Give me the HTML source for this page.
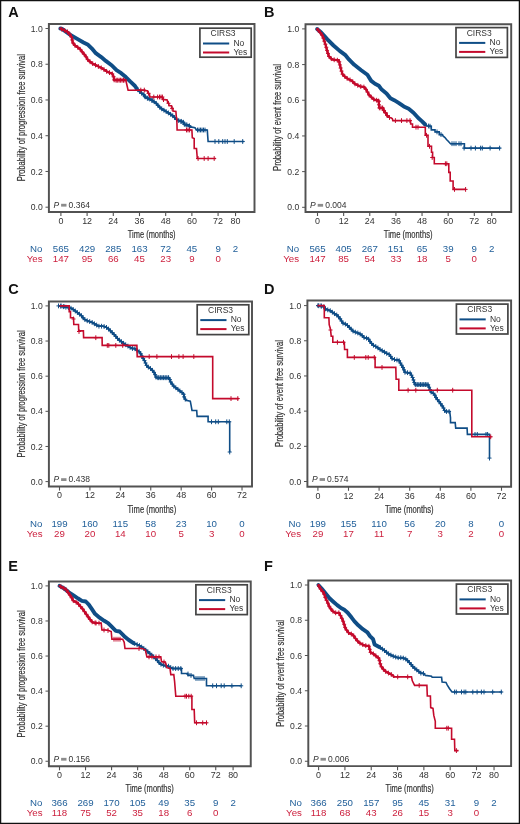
<!DOCTYPE html>
<html><head><meta charset="utf-8"><style>
html,body{margin:0;padding:0;background:#fff;}
svg{display:block;will-change:transform;}
text{font-family:"Liberation Sans", sans-serif;}
</style></head><body>
<svg width="520" height="824" viewBox="0 0 520 824">
<rect x="0" y="0" width="520" height="824" fill="#fff"/>
<text x="8.2" y="17.3" font-size="14.5" font-weight="bold" fill="#111">A</text>
<path d="M60.3,28.5 62,28.8 70.4,34.8 78.1,39.4 83.5,42.5 88.1,44.8 91.9,48.6 95.8,53.2 101.2,57.1 105.8,60.9 111.9,65.5 116.5,70.2 121.2,73.2 125.8,77.1 130.4,81.7 135,86 136.9,88.8 140.8,92.7 143.7,94.6 145.6,97.5 149.4,98.9 152.3,100.4 156.2,103.3 159,106.6 161.9,109 166.7,111.9 170.6,114.3 173.5,116.3 175.4,118.2 177.3,120.1 180.2,121.1 183.3,121.8 183.8,124.2 188.8,125.4 190.4,126.9 195,127.7 196.5,130 207.3,130 207.6,134.6 208.1,141.5 244.2,141.5" fill="none" stroke="#0f4d86" stroke-width="1.6" stroke-linejoin="miter" stroke-miterlimit="2"/>
<path d="M60.3,28.5 62,28.8 70.4,34.8 78.1,39.4 83.5,42.5 88.1,44.8 91.9,48.6 95.8,53.2 101.2,57.1 105.8,60.9 111.9,65.5 116.5,70.2 121.2,73.2 125.8,77.1 130.4,81.7 135,86 136.9,88.8" fill="none" stroke="#0f4d86" stroke-width="3.9" stroke-linejoin="round" stroke-linecap="round"/>
<path d="M136.9,88.8 140.8,92.7 143.7,94.6 145.6,97.5 149.4,98.9 152.3,100.4 156.2,103.3 159,106.6 161.9,109 166.7,111.9 170.6,114.3 173.5,116.3 175.4,118.2 177.3,120.1 180.2,121.1 183.3,121.8 183.8,124.2 188.8,125.4 190.4,126.9" fill="none" stroke="#0f4d86" stroke-width="2.2" stroke-linejoin="round" stroke-linecap="round"/>
<path d="M213,141.5h4M215,139.1v4.8M216.8,141.5h4M218.8,139.1v4.8M220.7,141.5h4M222.7,139.1v4.8M223,141.5h4M225,139.1v4.8M225.3,141.5h4M227.3,139.1v4.8M232.2,141.5h4M234.2,139.1v4.8M240.7,141.5h4M242.7,139.1v4.8M195.5,130h4M197.5,127.6v4.8M197,130h4M199,127.6v4.8M198.5,130h4M200.5,127.6v4.8M200,130h4M202,127.6v4.8M201.5,130h4M203.5,127.6v4.8M203,130h4M205,127.6v4.8M142.5,96h4M144.5,93.6v4.8M146,98.5h4M148,96.1v4.8M150,100.5h4M152,98.1v4.8M174.5,119.5h4M176.5,117.1v4.8M179,121.5h4M181,119.1v4.8M184,124.8h4M186,122.4v4.8M187.5,126.2h4M189.5,123.8v4.8M135.82,89.72h4M137.82,87.32v4.8M137.66,91.56h4M139.66,89.16v4.8M139.62,93.24h4M141.62,90.84v4.8M141.76,94.7h4M143.76,92.3v4.8M143.19,96.87h4M145.19,94.47v4.8M145.34,98.14h4M147.34,95.74v4.8M147.76,99.08h4M149.76,96.68v4.8M150.07,100.28h4M152.07,97.88v4.8M152.17,101.79h4M154.17,99.39v4.8M154.25,103.36h4M156.25,100.96v4.8M155.93,105.34h4M157.93,102.94v4.8M157.73,107.2h4M159.73,104.8v4.8M159.73,108.86h4M161.73,106.46v4.8M161.94,110.23h4M163.94,107.83v4.8M164.17,111.58h4M166.17,109.18v4.8M166.38,112.94h4M168.38,110.54v4.8M168.6,114.3h4M170.6,111.9v4.8M170.74,115.77h4M172.74,113.37v4.8M172.68,117.48h4M174.68,115.08v4.8M174.52,119.32h4M176.52,116.92v4.8M176.72,120.59h4M178.72,118.19v4.8M179.21,121.33h4M181.21,118.93v4.8M181.39,122.24h4M183.39,119.84v4.8M182.39,124.34h4M184.39,121.94v4.8M184.91,124.95h4M186.91,122.55v4.8M187.28,125.85h4M189.28,123.45v4.8" fill="none" stroke="#0f4d86" stroke-width="1.0"/>
<path d="M60.3,28.5 67.3,31.7 69.6,34 71.9,37.8 72.7,42.5 75,45.5 79.6,48.6 82.7,52.5 85.8,56.3 88.1,60.2 91.9,63.2 95,64.8 99.6,67.1 102.7,68.6 105.8,70.9 108.8,72.5 111.9,73.2 113.5,76.3 114.2,80.2 125.8,80.2 126.5,83.2 128.1,90.2 144.6,90.1 145.1,90.8 147.5,90.8 148,93.2 149.4,93.7 149.9,97 162.4,97 162.9,99.4 167.2,99.9 167.7,102.8 168.7,103.3 169.1,105.7 171.5,105.7 172,108.1 173,108.6 173,111 175.9,111.4 176.3,116.7 176.8,118.2 177.1,130 191.9,130 192.3,137.7 194.2,138.5 194.2,148.5 196.5,148.5 197.3,158.5 215.8,158.5" fill="none" stroke="#c40a2c" stroke-width="1.6" stroke-linejoin="miter" stroke-miterlimit="2"/>
<path d="M60.3,28.5 67.3,31.7 69.6,34 71.9,37.8 72.7,42.5 75,45.5 79.6,48.6 82.7,52.5 85.8,56.3 88.1,60.2 91.9,63.2 95,64.8 99.6,67.1 102.7,68.6 105.8,70.9 108.8,72.5 111.9,73.2 113.5,76.3 114.2,80.2 125.8,80.2" fill="none" stroke="#c40a2c" stroke-width="2.2" stroke-linejoin="round" stroke-linecap="round"/>
<path d="M114,80.2h4M116,77.8v4.8M116,80.2h4M118,77.8v4.8M118,80.2h4M120,77.8v4.8M120,80.2h4M122,77.8v4.8M122,80.2h4M124,77.8v4.8M138.8,90.1h4M140.8,87.7v4.8M142.3,90.1h4M144.3,87.7v4.8M151.8,97h4M153.8,94.6v4.8M155.6,97h4M157.6,94.6v4.8M157.5,97h4M159.5,94.6v4.8M159,97h4M161,94.6v4.8M160.4,97h4M162.4,94.6v4.8M146.5,93.3h4M148.5,90.9v4.8M161.5,99.6h4M163.5,97.2v4.8M166.5,103.3h4M168.5,100.9v4.8M170,108.3h4M172,105.9v4.8M184.5,130h4M186.5,127.6v4.8M186,130h4M188,127.6v4.8M187.6,130h4M189.6,127.6v4.8M196.1,158.5h4M198.1,156.1v4.8M202.2,158.5h4M204.2,156.1v4.8M206.1,158.5h4M208.1,156.1v4.8M212.2,158.5h4M214.2,156.1v4.8M59.76,29.17h4M61.76,26.77v4.8M62.67,30.5h4M64.67,28.1v4.8M65.51,31.91h4M67.51,29.51v4.8M67.73,34.21h4M69.73,31.81v4.8M69.39,36.95h4M71.39,34.55v4.8M70.27,39.98h4M72.27,37.58v4.8M71.09,43.01h4M73.09,40.61v4.8M73.05,45.53h4M75.05,43.13v4.8M75.7,47.32h4M77.7,44.92v4.8M78.17,49.32h4M80.17,46.92v4.8M80.16,51.82h4M82.16,49.42v4.8M82.17,54.31h4M84.17,51.91v4.8M84.12,56.84h4M86.12,54.44v4.8M85.74,59.6h4M87.74,57.2v4.8M88.06,61.75h4M90.06,59.35v4.8M90.66,63.59h4M92.66,61.19v4.8M93.51,65.05h4M95.51,62.65v4.8M96.37,66.49h4M98.37,64.09v4.8M99.24,67.9h4M101.24,65.5v4.8M101.97,69.54h4M103.97,67.14v4.8M104.61,71.33h4M106.61,68.93v4.8M107.51,72.66h4M109.51,70.26v4.8M110.24,73.86h4M112.24,71.46v4.8M111.58,76.75h4M113.58,74.35v4.8M112.15,79.9h4M114.15,77.5v4.8M115.09,80.2h4M117.09,77.8v4.8M118.29,80.2h4M120.29,77.8v4.8M121.49,80.2h4M123.49,77.8v4.8" fill="none" stroke="#c40a2c" stroke-width="1.0"/>
<path d="M48.9,24H254.5V212H48.9Z" fill="none" stroke="#525252" stroke-width="1.95"/>
<path d="M45.5,28.5H48.9" stroke="#525252" stroke-width="1"/>
<text transform="translate(42.7,31.65) scale(0.88,1)" font-size="9.8" text-anchor="end" fill="#333333">1.0</text>
<path d="M45.5,64.24H48.9" stroke="#525252" stroke-width="1"/>
<text transform="translate(42.7,67.39) scale(0.88,1)" font-size="9.8" text-anchor="end" fill="#333333">0.8</text>
<path d="M45.5,99.98H48.9" stroke="#525252" stroke-width="1"/>
<text transform="translate(42.7,103.13) scale(0.88,1)" font-size="9.8" text-anchor="end" fill="#333333">0.6</text>
<path d="M45.5,135.72H48.9" stroke="#525252" stroke-width="1"/>
<text transform="translate(42.7,138.87) scale(0.88,1)" font-size="9.8" text-anchor="end" fill="#333333">0.4</text>
<path d="M45.5,171.46H48.9" stroke="#525252" stroke-width="1"/>
<text transform="translate(42.7,174.61) scale(0.88,1)" font-size="9.8" text-anchor="end" fill="#333333">0.2</text>
<path d="M45.5,207.2H48.9" stroke="#525252" stroke-width="1"/>
<text transform="translate(42.7,210.35) scale(0.88,1)" font-size="9.8" text-anchor="end" fill="#333333">0.0</text>
<path d="M60.9,212V216.1" stroke="#525252" stroke-width="1.1"/>
<text transform="translate(60.9,223.8) scale(0.95,1)" font-size="9.4" text-anchor="middle" fill="#333333">0</text>
<path d="M87.1,212V216.1" stroke="#525252" stroke-width="1.1"/>
<text transform="translate(87.1,223.8) scale(0.95,1)" font-size="9.4" text-anchor="middle" fill="#333333">12</text>
<path d="M113.29,212V216.1" stroke="#525252" stroke-width="1.1"/>
<text transform="translate(113.29,223.8) scale(0.95,1)" font-size="9.4" text-anchor="middle" fill="#333333">24</text>
<path d="M139.49,212V216.1" stroke="#525252" stroke-width="1.1"/>
<text transform="translate(139.49,223.8) scale(0.95,1)" font-size="9.4" text-anchor="middle" fill="#333333">36</text>
<path d="M165.68,212V216.1" stroke="#525252" stroke-width="1.1"/>
<text transform="translate(165.68,223.8) scale(0.95,1)" font-size="9.4" text-anchor="middle" fill="#333333">48</text>
<path d="M191.88,212V216.1" stroke="#525252" stroke-width="1.1"/>
<text transform="translate(191.88,223.8) scale(0.95,1)" font-size="9.4" text-anchor="middle" fill="#333333">60</text>
<path d="M218.08,212V216.1" stroke="#525252" stroke-width="1.1"/>
<text transform="translate(218.08,223.8) scale(0.95,1)" font-size="9.4" text-anchor="middle" fill="#333333">72</text>
<path d="M235.54,212V216.1" stroke="#525252" stroke-width="1.1"/>
<text transform="translate(235.54,223.8) scale(0.95,1)" font-size="9.4" text-anchor="middle" fill="#333333">80</text>
<text transform="translate(24.6,181.3) rotate(-90)" font-size="10.5" textLength="127.1" lengthAdjust="spacingAndGlyphs" fill="#333333" stroke="#333333" stroke-width="0.2">Probability of progression free survival</text>
<text x="127.8" y="237.8" font-size="10.5" textLength="47.8" lengthAdjust="spacingAndGlyphs" fill="#333333" stroke="#333333" stroke-width="0.2">Time (months)</text>
<text x="53.5" y="207.5" font-size="8.5" font-style="italic" fill="#333333">P</text>
<rect x="61.1" y="203.8" width="5.4" height="2.8" fill="#8c8c8c"/>
<text x="68.6" y="207.5" font-size="8.5" fill="#333333">0.364</text>
<rect x="199.9" y="28.2" width="51.3" height="29" fill="#fff" stroke="#444" stroke-width="1.7"/>
<text x="223.1" y="36.3" font-size="8.5" text-anchor="middle" fill="#333333">CIRS3</text>
<path d="M203,43.5H229.2" stroke="#0f4d86" stroke-width="2"/>
<path d="M203,52.5H229.2" stroke="#c40a2c" stroke-width="2"/>
<text x="233.4" y="45.8" font-size="8.5" fill="#333333">No</text>
<text x="233.4" y="54.8" font-size="8.5" fill="#333333">Yes</text>
<text x="42.5" y="251.55" font-size="9.7" text-anchor="end" fill="#22609a">No</text>
<text x="42.5" y="261.65" font-size="9.7" text-anchor="end" fill="#cc1f3d">Yes</text>
<text x="60.9" y="251.55" font-size="9.7" text-anchor="middle" fill="#22609a">565</text>
<text x="87.1" y="251.55" font-size="9.7" text-anchor="middle" fill="#22609a">429</text>
<text x="113.29" y="251.55" font-size="9.7" text-anchor="middle" fill="#22609a">285</text>
<text x="139.49" y="251.55" font-size="9.7" text-anchor="middle" fill="#22609a">163</text>
<text x="165.68" y="251.55" font-size="9.7" text-anchor="middle" fill="#22609a">72</text>
<text x="191.88" y="251.55" font-size="9.7" text-anchor="middle" fill="#22609a">45</text>
<text x="218.08" y="251.55" font-size="9.7" text-anchor="middle" fill="#22609a">9</text>
<text x="235.54" y="251.55" font-size="9.7" text-anchor="middle" fill="#22609a">2</text>
<text x="60.9" y="261.65" font-size="9.7" text-anchor="middle" fill="#cc1f3d">147</text>
<text x="87.1" y="261.65" font-size="9.7" text-anchor="middle" fill="#cc1f3d">95</text>
<text x="113.29" y="261.65" font-size="9.7" text-anchor="middle" fill="#cc1f3d">66</text>
<text x="139.49" y="261.65" font-size="9.7" text-anchor="middle" fill="#cc1f3d">45</text>
<text x="165.68" y="261.65" font-size="9.7" text-anchor="middle" fill="#cc1f3d">23</text>
<text x="191.88" y="261.65" font-size="9.7" text-anchor="middle" fill="#cc1f3d">9</text>
<text x="218.08" y="261.65" font-size="9.7" text-anchor="middle" fill="#cc1f3d">0</text>
<text x="264" y="17.3" font-size="14.5" font-weight="bold" fill="#111">B</text>
<path d="M317.1,29 321.2,32.5 327.4,39.4 333.5,45.5 339.7,50.9 345.1,54.8 348.9,59.4 354.3,64.8 361.2,70.2 367.4,74.8 371.2,80.9 375,83.8 378.8,85.8 381.7,89.6 386.5,93.5 390.4,98.3 394.2,100.2 399,103.1 403.8,106.4 408.7,108.8 413.5,112.7 418.3,118 421.8,121.1 425.2,124.5 426.7,125.9 430.5,126.2 431.3,126.2 431.3,129.9 435,129.9 435,131.9 439.2,131.9 439.2,134.6 442.5,134.6 443,136 445,137.5 446.5,139.5 448.5,141.5 450.5,143.7 464.4,143.7 464.4,148.1 500.4,148.1" fill="none" stroke="#0f4d86" stroke-width="1.6" stroke-linejoin="miter" stroke-miterlimit="2"/>
<path d="M317.1,29 321.2,32.5 327.4,39.4 333.5,45.5 339.7,50.9 345.1,54.8 348.9,59.4 354.3,64.8 361.2,70.2 367.4,74.8 371.2,80.9 375,83.8 378.8,85.8 381.7,89.6 386.5,93.5 390.4,98.3 394.2,100.2 399,103.1 403.8,106.4 408.7,108.8 413.5,112.7 418.3,118 421.8,121.1 425.2,124.5" fill="none" stroke="#0f4d86" stroke-width="3.9" stroke-linejoin="round" stroke-linecap="round"/>
<path d="M462.1,148.1h4M464.1,145.7v4.8M469,148.1h4M471,145.7v4.8M473.4,148.1h4M475.4,145.7v4.8M478.6,148.1h4M480.6,145.7v4.8M480.3,148.1h4M482.3,145.7v4.8M488.1,148.1h4M490.1,145.7v4.8M497.6,148.1h4M499.6,145.7v4.8M450,143.7h4M452,141.3v4.8M452,143.7h4M454,141.3v4.8M454,143.7h4M456,141.3v4.8M457,143.7h4M459,141.3v4.8M459,143.7h4M461,141.3v4.8M426.6,126h4M428.6,123.6v4.8M428,126.2h4M430,123.8v4.8M435,131.9h4M437,129.5v4.8M439,134.6h4M441,132.2v4.8" fill="none" stroke="#0f4d86" stroke-width="1.0"/>
<path d="M317.1,29 319.7,31.7 322.8,36.3 324.3,40.9 325.8,45.5 327.4,51.7 328.9,56.3 332,59.4 336.6,60.2 338.9,60.2 339.7,64 341.2,70.2 342.8,74.8 347.4,78.6 352,80.9 355.1,84 359.7,86.3 364.3,87.1 366.6,90.2 368.9,94.8 372,97.8 375,100.2 378.4,100.2 378.8,103.1 379.3,107.9 383.2,107.9 384.1,111.7 386.5,113.7 387.5,116.5 392.3,118.5 392.8,120.6 410.5,120.6 410.7,124 412.5,124 412.5,127.2 425.3,127.2 425.3,135.3 428,135.3 428,146.3 431.5,146.3 431.5,152.2 432.6,152.2 432.6,157.5 434.3,157.5 434.3,163.75 448.8,163.75 448.8,172.4 450.2,172.4 450.2,181 453.1,181 453.1,189.4 466.1,189.4" fill="none" stroke="#c40a2c" stroke-width="1.6" stroke-linejoin="miter" stroke-miterlimit="2"/>
<path d="M317.1,29 319.7,31.7 322.8,36.3 324.3,40.9 325.8,45.5 327.4,51.7 328.9,56.3 332,59.4 336.6,60.2 338.9,60.2 339.7,64 341.2,70.2 342.8,74.8 347.4,78.6 352,80.9 355.1,84 359.7,86.3 364.3,87.1 366.6,90.2 368.9,94.8 372,97.8 375,100.2 378.4,100.2 378.8,103.1 379.3,107.9 383.2,107.9 384.1,111.7 386.5,113.7 387.5,116.5" fill="none" stroke="#c40a2c" stroke-width="2.2" stroke-linejoin="round" stroke-linecap="round"/>
<path d="M393.4,120.6h4M395.4,118.2v4.8M399.5,120.6h4M401.5,118.2v4.8M404.9,120.6h4M406.9,118.2v4.8M408,120.6h4M410,118.2v4.8M376.6,101h4M378.6,98.6v4.8M379,107.9h4M381,105.5v4.8M383.5,112.7h4M385.5,110.3v4.8M387.5,117.5h4M389.5,115.1v4.8M414,127.2h4M416,124.8v4.8M416,127.2h4M418,124.8v4.8M424.5,135.3h4M426.5,132.9v4.8M427.5,146.3h4M429.5,143.9v4.8M430.2,157.5h4M432.2,155.1v4.8M443.4,163.75h4M445.4,161.35v4.8M444.8,163.75h4M446.8,161.35v4.8M452.5,189.4h4M454.5,187v4.8M463.6,189.4h4M465.6,187v4.8M316.21,30.15h4M318.21,27.75v4.8M318.29,32.57h4M320.29,30.17v4.8M320.08,35.23h4M322.08,32.83v4.8M321.39,38.11h4M323.39,35.71v4.8M322.38,41.15h4M324.38,38.75v4.8M323.37,44.2h4M325.37,41.8v4.8M324.26,47.27h4M326.26,44.87v4.8M325.06,50.37h4M327.06,47.97v4.8M325.97,53.43h4M327.97,51.03v4.8M327.03,56.43h4M329.03,54.03v4.8M329.29,58.69h4M331.29,56.29v4.8M332.17,59.78h4M334.17,57.38v4.8M335.33,60.2h4M337.33,57.8v4.8M337.24,61.8h4M339.24,59.4v4.8M337.92,64.92h4M339.92,62.52v4.8M338.68,68.03h4M340.68,65.63v4.8M339.52,71.12h4M341.52,68.72v4.8M340.57,74.14h4M342.57,71.74v4.8M342.73,76.39h4M344.73,73.99v4.8M345.2,78.43h4M347.2,76.03v4.8M348.02,79.91h4M350.02,77.51v4.8M350.7,81.6h4M352.7,79.2v4.8M352.96,83.86h4M354.96,81.46v4.8M355.79,85.34h4M357.79,82.94v4.8M358.75,86.48h4M360.75,84.08v4.8M361.9,87.03h4M363.9,84.63v4.8M363.97,89.34h4M365.97,86.94v4.8M365.55,92.11h4M367.55,89.71v4.8M367.04,94.93h4M369.04,92.53v4.8M369.34,97.16h4M371.34,94.76v4.8M371.78,99.22h4M373.78,96.82v4.8M374.64,100.2h4M376.64,97.8v4.8M376.6,101.62h4M378.6,99.22v4.8M376.98,104.8h4M378.98,102.4v4.8M377.38,107.9h4M379.38,105.5v4.8M380.58,107.9h4M382.58,105.5v4.8M381.8,110.41h4M383.8,108.01v4.8M383.54,112.9h4M385.54,110.5v4.8M385.16,115.54h4M387.16,113.14v4.8" fill="none" stroke="#c40a2c" stroke-width="1.0"/>
<path d="M305.5,24.3H511.2V211.9H305.5Z" fill="none" stroke="#525252" stroke-width="1.95"/>
<path d="M302.1,28.9H305.5" stroke="#525252" stroke-width="1"/>
<text transform="translate(299.3,32.05) scale(0.88,1)" font-size="9.8" text-anchor="end" fill="#333333">1.0</text>
<path d="M302.1,64.58H305.5" stroke="#525252" stroke-width="1"/>
<text transform="translate(299.3,67.73) scale(0.88,1)" font-size="9.8" text-anchor="end" fill="#333333">0.8</text>
<path d="M302.1,100.26H305.5" stroke="#525252" stroke-width="1"/>
<text transform="translate(299.3,103.41) scale(0.88,1)" font-size="9.8" text-anchor="end" fill="#333333">0.6</text>
<path d="M302.1,135.94H305.5" stroke="#525252" stroke-width="1"/>
<text transform="translate(299.3,139.09) scale(0.88,1)" font-size="9.8" text-anchor="end" fill="#333333">0.4</text>
<path d="M302.1,171.62H305.5" stroke="#525252" stroke-width="1"/>
<text transform="translate(299.3,174.77) scale(0.88,1)" font-size="9.8" text-anchor="end" fill="#333333">0.2</text>
<path d="M302.1,207.3H305.5" stroke="#525252" stroke-width="1"/>
<text transform="translate(299.3,210.45) scale(0.88,1)" font-size="9.8" text-anchor="end" fill="#333333">0.0</text>
<path d="M317.5,211.9V216" stroke="#525252" stroke-width="1.1"/>
<text transform="translate(317.5,223.7) scale(0.95,1)" font-size="9.4" text-anchor="middle" fill="#333333">0</text>
<path d="M343.64,211.9V216" stroke="#525252" stroke-width="1.1"/>
<text transform="translate(343.64,223.7) scale(0.95,1)" font-size="9.4" text-anchor="middle" fill="#333333">12</text>
<path d="M369.77,211.9V216" stroke="#525252" stroke-width="1.1"/>
<text transform="translate(369.77,223.7) scale(0.95,1)" font-size="9.4" text-anchor="middle" fill="#333333">24</text>
<path d="M395.91,211.9V216" stroke="#525252" stroke-width="1.1"/>
<text transform="translate(395.91,223.7) scale(0.95,1)" font-size="9.4" text-anchor="middle" fill="#333333">36</text>
<path d="M422.04,211.9V216" stroke="#525252" stroke-width="1.1"/>
<text transform="translate(422.04,223.7) scale(0.95,1)" font-size="9.4" text-anchor="middle" fill="#333333">48</text>
<path d="M448.18,211.9V216" stroke="#525252" stroke-width="1.1"/>
<text transform="translate(448.18,223.7) scale(0.95,1)" font-size="9.4" text-anchor="middle" fill="#333333">60</text>
<path d="M474.32,211.9V216" stroke="#525252" stroke-width="1.1"/>
<text transform="translate(474.32,223.7) scale(0.95,1)" font-size="9.4" text-anchor="middle" fill="#333333">72</text>
<path d="M491.74,211.9V216" stroke="#525252" stroke-width="1.1"/>
<text transform="translate(491.74,223.7) scale(0.95,1)" font-size="9.4" text-anchor="middle" fill="#333333">80</text>
<text transform="translate(280.8,170.9) rotate(-90)" font-size="10.5" textLength="106.8" lengthAdjust="spacingAndGlyphs" fill="#333333" stroke="#333333" stroke-width="0.2">Probability of event free survival</text>
<text x="383.8" y="237.8" font-size="10.5" textLength="48.7" lengthAdjust="spacingAndGlyphs" fill="#333333" stroke="#333333" stroke-width="0.2">Time (months)</text>
<text x="310.1" y="207.6" font-size="8.5" font-style="italic" fill="#333333">P</text>
<rect x="317.7" y="203.9" width="5.4" height="2.8" fill="#8c8c8c"/>
<text x="325.2" y="207.6" font-size="8.5" fill="#333333">0.004</text>
<rect x="456" y="27.6" width="51.4" height="29.8" fill="#fff" stroke="#444" stroke-width="1.7"/>
<text x="479.25" y="35.7" font-size="8.5" text-anchor="middle" fill="#333333">CIRS3</text>
<path d="M459.1,42.9H485.3" stroke="#0f4d86" stroke-width="2"/>
<path d="M459.1,51.9H485.3" stroke="#c40a2c" stroke-width="2"/>
<text x="489.5" y="45.2" font-size="8.5" fill="#333333">No</text>
<text x="489.5" y="54.2" font-size="8.5" fill="#333333">Yes</text>
<text x="299.1" y="251.55" font-size="9.7" text-anchor="end" fill="#22609a">No</text>
<text x="299.1" y="261.65" font-size="9.7" text-anchor="end" fill="#cc1f3d">Yes</text>
<text x="317.5" y="251.55" font-size="9.7" text-anchor="middle" fill="#22609a">565</text>
<text x="343.64" y="251.55" font-size="9.7" text-anchor="middle" fill="#22609a">405</text>
<text x="369.77" y="251.55" font-size="9.7" text-anchor="middle" fill="#22609a">267</text>
<text x="395.91" y="251.55" font-size="9.7" text-anchor="middle" fill="#22609a">151</text>
<text x="422.04" y="251.55" font-size="9.7" text-anchor="middle" fill="#22609a">65</text>
<text x="448.18" y="251.55" font-size="9.7" text-anchor="middle" fill="#22609a">39</text>
<text x="474.32" y="251.55" font-size="9.7" text-anchor="middle" fill="#22609a">9</text>
<text x="491.74" y="251.55" font-size="9.7" text-anchor="middle" fill="#22609a">2</text>
<text x="317.5" y="261.65" font-size="9.7" text-anchor="middle" fill="#cc1f3d">147</text>
<text x="343.64" y="261.65" font-size="9.7" text-anchor="middle" fill="#cc1f3d">85</text>
<text x="369.77" y="261.65" font-size="9.7" text-anchor="middle" fill="#cc1f3d">54</text>
<text x="395.91" y="261.65" font-size="9.7" text-anchor="middle" fill="#cc1f3d">33</text>
<text x="422.04" y="261.65" font-size="9.7" text-anchor="middle" fill="#cc1f3d">18</text>
<text x="448.18" y="261.65" font-size="9.7" text-anchor="middle" fill="#cc1f3d">5</text>
<text x="474.32" y="261.65" font-size="9.7" text-anchor="middle" fill="#cc1f3d">0</text>
<text x="8.2" y="294" font-size="14.5" font-weight="bold" fill="#111">C</text>
<path d="M59.5,305.9 64.2,306.9 68.8,307.7 71.9,308.5 75,310.8 78.1,313.1 81.2,315.4 84.2,319.2 87.3,320.8 91.9,322.3 95.8,324.6 98.8,326.2 102.7,326.2 105.8,326.9 108.8,329.2 111.9,332.3 115,335.4 118.1,339.2 121.2,341.5 124.2,343.8 128.1,346.2 131.9,348.5 134.6,348.5 137.7,350.8 140,352.3 142.3,356.9 144.6,360.8 146.9,366.2 151.5,369.2 154.6,373.1 156.2,377.7 169.2,377.7 170.8,382.3 173.8,386.2 177.7,389.2 180.9,391.8 183.5,393.5 184.3,397.7 186,400.3 190.3,401.1 191.1,405.4 192,410.5 196.7,410.5 197.1,416.4 208.1,416.4 208.1,421.8 229.7,421.8 229.7,452" fill="none" stroke="#0f4d86" stroke-width="1.6" stroke-linejoin="miter" stroke-miterlimit="2"/>
<path d="M59.5,305.9 64.2,306.9 68.8,307.7 71.9,308.5 75,310.8 78.1,313.1 81.2,315.4 84.2,319.2 87.3,320.8 91.9,322.3 95.8,324.6 98.8,326.2 102.7,326.2 105.8,326.9 108.8,329.2 111.9,332.3 115,335.4 118.1,339.2 121.2,341.5 124.2,343.8 128.1,346.2 131.9,348.5 134.6,348.5 137.7,350.8 140,352.3 142.3,356.9 144.6,360.8 146.9,366.2 151.5,369.2 154.6,373.1 156.2,377.7 169.2,377.7 170.8,382.3 173.8,386.2 177.7,389.2 180.9,391.8 183.5,393.5 184.3,397.7 186,400.3" fill="none" stroke="#0f4d86" stroke-width="1.8" stroke-linejoin="round" stroke-linecap="round"/>
<path d="M227.7,452h4M229.7,449.6v4.8M209.5,421.8h4M211.5,419.4v4.8M213.7,421.8h4M215.7,419.4v4.8M216.3,421.8h4M218.3,419.4v4.8M224.8,421.8h4M226.8,419.4v4.8M227.3,421.8h4M229.3,419.4v4.8M156,377.7h4M158,375.3v4.8M158,377.7h4M160,375.3v4.8M160,377.7h4M162,375.3v4.8M162,377.7h4M164,375.3v4.8M164,377.7h4M166,375.3v4.8M166,377.7h4M168,375.3v4.8M56.5,305.9h4M58.5,303.5v4.8M59,305.9h4M61,303.5v4.8M62,306.5h4M64,304.1v4.8M58.77,306.17h4M60.77,303.77v4.8M61.31,306.71h4M63.31,304.31v4.8M63.87,307.19h4M65.87,304.79v4.8M66.43,307.64h4M68.43,305.24v4.8M68.96,308.26h4M70.96,305.86v4.8M71.2,309.47h4M73.2,307.07v4.8M73.29,311.02h4M75.29,308.62v4.8M75.38,312.57h4M77.38,310.17v4.8M77.47,314.12h4M79.47,311.72v4.8M79.48,315.75h4M81.48,313.35v4.8M81.09,317.79h4M83.09,315.39v4.8M82.91,319.57h4M84.91,317.17v4.8M85.22,320.76h4M87.22,318.36v4.8M87.69,321.58h4M89.69,319.18v4.8M90.14,322.44h4M92.14,320.04v4.8M92.38,323.76h4M94.38,321.36v4.8M94.64,325.05h4M96.64,322.65v4.8M96.95,326.2h4M98.95,323.8v4.8M99.55,326.2h4M101.55,323.8v4.8M102.11,326.52h4M104.11,324.12v4.8M104.49,327.43h4M106.49,325.03v4.8M106.55,329.01h4M108.55,326.61v4.8M108.42,330.82h4M110.42,328.42v4.8M110.26,332.66h4M112.26,330.26v4.8M112.1,334.5h4M114.1,332.1v4.8M113.84,336.42h4M115.84,334.02v4.8M115.48,338.44h4M117.48,336.04v4.8M117.4,340.16h4M119.4,337.76v4.8M119.48,341.72h4M121.48,339.32v4.8M121.55,343.3h4M123.55,340.9v4.8M123.71,344.73h4M125.71,342.33v4.8M125.93,346.09h4M127.93,343.69v4.8M128.15,347.44h4M130.15,345.04v4.8M130.46,348.5h4M132.46,346.1v4.8M132.97,348.77h4M134.97,346.37v4.8M135.05,350.32h4M137.05,347.92v4.8M137.2,351.78h4M139.2,349.38v4.8M138.74,353.78h4M140.74,351.38v4.8M139.9,356.1h4M141.9,353.7v4.8M141.17,358.37h4M143.17,355.97v4.8M142.49,360.61h4M144.49,358.21v4.8M143.53,362.99h4M145.53,360.59v4.8M144.55,365.38h4M146.55,362.98v4.8M146.33,367.13h4M148.33,364.73v4.8M148.51,368.55h4M150.51,366.15v4.8M150.38,370.31h4M152.38,367.91v4.8M152,372.35h4M154,369.95v4.8M153.14,374.65h4M155.14,372.25v4.8M153.99,377.1h4M155.99,374.7v4.8M156.17,377.7h4M158.17,375.3v4.8M158.77,377.7h4M160.77,375.3v4.8M161.37,377.7h4M163.37,375.3v4.8M163.97,377.7h4M165.97,375.3v4.8M166.57,377.7h4M168.57,375.3v4.8M167.85,379.56h4M169.85,377.16v4.8M168.7,382.01h4M170.7,379.61v4.8M170.2,384.12h4M172.2,381.72v4.8M171.78,386.18h4M173.78,383.78v4.8M173.84,387.77h4M175.84,385.37v4.8M175.9,389.36h4M177.9,386.96v4.8M177.92,391h4M179.92,388.6v4.8M180.01,392.53h4M182.01,390.13v4.8M181.65,394.31h4M183.65,391.91v4.8M182.14,396.86h4M184.14,394.46v4.8M183.26,399.16h4M185.26,396.76v4.8" fill="none" stroke="#0f4d86" stroke-width="1.0"/>
<path d="M59.5,305.9 69.2,305.9 69.2,311.6 70.5,311.6 70.5,317.8 73.5,317.8 73.8,324.5 78.5,324.5 78.7,330.9 83.4,330.9 83.6,337.6 102.1,337.6 102.2,345.4 136.9,345.4 137.2,356.6 212.7,356.6 212.7,398.6 238.7,398.6" fill="none" stroke="#c40a2c" stroke-width="1.6" stroke-linejoin="miter" stroke-miterlimit="2"/>
<path d="M71.5,319h4M73.5,316.6v4.8M77,331.5h4M79,329.1v4.8M93.8,337.7h4M95.8,335.3v4.8M105.3,345.4h4M107.3,343v4.8M106.8,345.4h4M108.8,343v4.8M113.8,345.4h4M115.8,343v4.8M120.7,345.4h4M122.7,343v4.8M147.2,356.6h4M149.2,354.2v4.8M154.9,356.6h4M156.9,354.2v4.8M169.5,356.6h4M171.5,354.2v4.8M176.9,356.6h4M178.9,354.2v4.8M181.1,356.6h4M183.1,354.2v4.8M191.8,356.6h4M193.8,354.2v4.8M229,398.6h4M231,396.2v4.8M235.8,398.6h4M237.8,396.2v4.8" fill="none" stroke="#c40a2c" stroke-width="1.0"/>
<path d="M48.9,301.4H252V486.5H48.9Z" fill="none" stroke="#525252" stroke-width="1.95"/>
<path d="M45.5,305.9H48.9" stroke="#525252" stroke-width="1"/>
<text transform="translate(42.7,309.05) scale(0.88,1)" font-size="9.8" text-anchor="end" fill="#333333">1.0</text>
<path d="M45.5,341.04H48.9" stroke="#525252" stroke-width="1"/>
<text transform="translate(42.7,344.19) scale(0.88,1)" font-size="9.8" text-anchor="end" fill="#333333">0.8</text>
<path d="M45.5,376.18H48.9" stroke="#525252" stroke-width="1"/>
<text transform="translate(42.7,379.33) scale(0.88,1)" font-size="9.8" text-anchor="end" fill="#333333">0.6</text>
<path d="M45.5,411.32H48.9" stroke="#525252" stroke-width="1"/>
<text transform="translate(42.7,414.47) scale(0.88,1)" font-size="9.8" text-anchor="end" fill="#333333">0.4</text>
<path d="M45.5,446.46H48.9" stroke="#525252" stroke-width="1"/>
<text transform="translate(42.7,449.61) scale(0.88,1)" font-size="9.8" text-anchor="end" fill="#333333">0.2</text>
<path d="M45.5,481.6H48.9" stroke="#525252" stroke-width="1"/>
<text transform="translate(42.7,484.75) scale(0.88,1)" font-size="9.8" text-anchor="end" fill="#333333">0.0</text>
<path d="M59.5,486.5V490.6" stroke="#525252" stroke-width="1.1"/>
<text transform="translate(59.5,498.3) scale(0.95,1)" font-size="9.4" text-anchor="middle" fill="#333333">0</text>
<path d="M89.92,486.5V490.6" stroke="#525252" stroke-width="1.1"/>
<text transform="translate(89.92,498.3) scale(0.95,1)" font-size="9.4" text-anchor="middle" fill="#333333">12</text>
<path d="M120.34,486.5V490.6" stroke="#525252" stroke-width="1.1"/>
<text transform="translate(120.34,498.3) scale(0.95,1)" font-size="9.4" text-anchor="middle" fill="#333333">24</text>
<path d="M150.76,486.5V490.6" stroke="#525252" stroke-width="1.1"/>
<text transform="translate(150.76,498.3) scale(0.95,1)" font-size="9.4" text-anchor="middle" fill="#333333">36</text>
<path d="M181.18,486.5V490.6" stroke="#525252" stroke-width="1.1"/>
<text transform="translate(181.18,498.3) scale(0.95,1)" font-size="9.4" text-anchor="middle" fill="#333333">48</text>
<path d="M211.6,486.5V490.6" stroke="#525252" stroke-width="1.1"/>
<text transform="translate(211.6,498.3) scale(0.95,1)" font-size="9.4" text-anchor="middle" fill="#333333">60</text>
<path d="M242.02,486.5V490.6" stroke="#525252" stroke-width="1.1"/>
<text transform="translate(242.02,498.3) scale(0.95,1)" font-size="9.4" text-anchor="middle" fill="#333333">72</text>
<text transform="translate(24.6,457.5) rotate(-90)" font-size="10.5" textLength="127.1" lengthAdjust="spacingAndGlyphs" fill="#333333" stroke="#333333" stroke-width="0.2">Probability of progression free survival</text>
<text x="127.5" y="512.5" font-size="10.5" textLength="48.7" lengthAdjust="spacingAndGlyphs" fill="#333333" stroke="#333333" stroke-width="0.2">Time (months)</text>
<text x="53.5" y="481.9" font-size="8.5" font-style="italic" fill="#333333">P</text>
<rect x="61.1" y="478.2" width="5.4" height="2.8" fill="#8c8c8c"/>
<text x="68.6" y="481.9" font-size="8.5" fill="#333333">0.438</text>
<rect x="197.2" y="304.8" width="51.6" height="29.8" fill="#fff" stroke="#444" stroke-width="1.7"/>
<text x="220.55" y="312.9" font-size="8.5" text-anchor="middle" fill="#333333">CIRS3</text>
<path d="M200.3,320.1H226.5" stroke="#0f4d86" stroke-width="2"/>
<path d="M200.3,329.1H226.5" stroke="#c40a2c" stroke-width="2"/>
<text x="230.7" y="322.4" font-size="8.5" fill="#333333">No</text>
<text x="230.7" y="331.4" font-size="8.5" fill="#333333">Yes</text>
<text x="42.5" y="527.05" font-size="9.7" text-anchor="end" fill="#22609a">No</text>
<text x="42.5" y="537.05" font-size="9.7" text-anchor="end" fill="#cc1f3d">Yes</text>
<text x="59.5" y="527.05" font-size="9.7" text-anchor="middle" fill="#22609a">199</text>
<text x="89.92" y="527.05" font-size="9.7" text-anchor="middle" fill="#22609a">160</text>
<text x="120.34" y="527.05" font-size="9.7" text-anchor="middle" fill="#22609a">115</text>
<text x="150.76" y="527.05" font-size="9.7" text-anchor="middle" fill="#22609a">58</text>
<text x="181.18" y="527.05" font-size="9.7" text-anchor="middle" fill="#22609a">23</text>
<text x="211.6" y="527.05" font-size="9.7" text-anchor="middle" fill="#22609a">10</text>
<text x="242.02" y="527.05" font-size="9.7" text-anchor="middle" fill="#22609a">0</text>
<text x="59.5" y="537.05" font-size="9.7" text-anchor="middle" fill="#cc1f3d">29</text>
<text x="89.92" y="537.05" font-size="9.7" text-anchor="middle" fill="#cc1f3d">20</text>
<text x="120.34" y="537.05" font-size="9.7" text-anchor="middle" fill="#cc1f3d">14</text>
<text x="150.76" y="537.05" font-size="9.7" text-anchor="middle" fill="#cc1f3d">10</text>
<text x="181.18" y="537.05" font-size="9.7" text-anchor="middle" fill="#cc1f3d">5</text>
<text x="211.6" y="537.05" font-size="9.7" text-anchor="middle" fill="#cc1f3d">3</text>
<text x="242.02" y="537.05" font-size="9.7" text-anchor="middle" fill="#cc1f3d">0</text>
<text x="264" y="294" font-size="14.5" font-weight="bold" fill="#111">D</text>
<path d="M317.5,305.6 323.5,306.5 325.8,309.2 330.5,310.8 333.5,313.1 337.4,315.4 340.5,319.2 342.8,323.1 346.6,324.6 350.5,328.5 353.5,331.5 358.2,333.1 361.2,334.6 364.3,337.7 368.2,338.5 370.5,342.3 373.5,345.4 376.6,346.9 379.7,349.2 383.5,351.5 387.4,353.8 389.6,354.6 391.9,358.5 395.8,360 398.8,360 400.4,363.1 402.7,366.9 405,372.3 410.4,373.1 412.7,377.7 415,384.6 428.1,384.6 429.6,388.5 431.2,392.3 434.2,393.8 436.5,398.5 439.6,402.3 443.4,407.6 445,411.5 449.7,411.5 450.5,417.9 450.5,422.6 455.2,422.6 455.7,428.1 467.1,428.1 467.4,434.4 489.5,434.4 489.5,458.1" fill="none" stroke="#0f4d86" stroke-width="1.6" stroke-linejoin="miter" stroke-miterlimit="2"/>
<path d="M317.5,305.6 323.5,306.5 325.8,309.2 330.5,310.8 333.5,313.1 337.4,315.4 340.5,319.2 342.8,323.1 346.6,324.6 350.5,328.5 353.5,331.5 358.2,333.1 361.2,334.6 364.3,337.7 368.2,338.5 370.5,342.3 373.5,345.4 376.6,346.9 379.7,349.2 383.5,351.5 387.4,353.8 389.6,354.6 391.9,358.5 395.8,360 398.8,360 400.4,363.1 402.7,366.9 405,372.3 410.4,373.1 412.7,377.7 415,384.6 428.1,384.6 429.6,388.5 431.2,392.3 434.2,393.8 436.5,398.5 439.6,402.3 443.4,407.6 445,411.5 449.7,411.5" fill="none" stroke="#0f4d86" stroke-width="1.8" stroke-linejoin="round" stroke-linecap="round"/>
<path d="M473,434.4h4M475,432v4.8M475.3,434.4h4M477.3,432v4.8M484,434.4h4M486,432v4.8M485.6,434.4h4M487.6,432v4.8M487.5,458.1h4M489.5,455.7v4.8M415,384.6h4M417,382.2v4.8M417,384.6h4M419,382.2v4.8M419,384.6h4M421,382.2v4.8M421,384.6h4M423,382.2v4.8M423,384.6h4M425,382.2v4.8M425,384.6h4M427,382.2v4.8M316,305.6h4M318,303.2v4.8M319,305.8h4M321,303.4v4.8M316.79,305.79h4M318.79,303.39v4.8M319.36,306.18h4M321.36,303.78v4.8M321.78,306.83h4M323.78,304.43v4.8M323.47,308.81h4M325.47,306.41v4.8M325.77,309.87h4M327.77,307.47v4.8M328.24,310.71h4M330.24,308.31v4.8M330.34,312.21h4M332.34,309.81v4.8M332.48,313.68h4M334.48,311.28v4.8M334.72,315h4M336.72,312.6v4.8M336.55,316.81h4M338.55,314.41v4.8M338.19,318.82h4M340.19,316.42v4.8M339.57,321.02h4M341.57,318.62v4.8M340.97,323.17h4M342.97,320.77v4.8M343.39,324.12h4M345.39,321.72v4.8M345.52,325.52h4M347.52,323.12v4.8M347.35,327.35h4M349.35,324.95v4.8M349.19,329.19h4M351.19,326.79v4.8M351.03,331.03h4M353.03,328.63v4.8M353.33,332.12h4M355.33,329.72v4.8M355.8,332.96h4M357.8,330.56v4.8M358.14,334.07h4M360.14,331.67v4.8M360.2,335.6h4M362.2,333.2v4.8M362.04,337.44h4M364.04,335.04v4.8M364.49,338.15h4M366.49,335.75v4.8M366.64,339.23h4M368.64,336.83v4.8M367.99,341.45h4M369.99,339.05v4.8M369.62,343.46h4M371.62,341.06v4.8M371.43,345.33h4M373.43,342.93v4.8M373.75,346.49h4M375.75,344.09v4.8M375.93,347.89h4M377.93,345.49v4.8M378.04,349.4h4M380.04,347v4.8M380.26,350.75h4M382.26,348.35v4.8M382.49,352.09h4M384.49,349.69v4.8M384.73,353.41h4M386.73,351.01v4.8M387.11,354.42h4M389.11,352.02v4.8M388.66,356.39h4M390.66,353.99v4.8M390.05,358.56h4M392.05,356.16v4.8M392.47,359.49h4M394.47,357.09v4.8M394.98,360h4M396.98,357.6v4.8M397.16,360.69h4M399.16,358.29v4.8M398.35,363h4M400.35,360.6v4.8M399.69,365.23h4M401.69,362.83v4.8M400.95,367.5h4M402.95,365.1v4.8M401.97,369.89h4M403.97,367.49v4.8M402.99,372.28h4M404.99,369.88v4.8M405.55,372.68h4M407.55,370.28v4.8M408.12,373.06h4M410.12,370.66v4.8M409.44,375.17h4M411.44,372.77v4.8M410.6,377.5h4M412.6,375.1v4.8M411.45,379.95h4M413.45,377.55v4.8M412.27,382.42h4M414.27,380.02v4.8M413.3,384.6h4M415.3,382.2v4.8M415.9,384.6h4M417.9,382.2v4.8M418.5,384.6h4M420.5,382.2v4.8M421.1,384.6h4M423.1,382.2v4.8M423.7,384.6h4M425.7,382.2v4.8M426.17,384.79h4M428.17,382.39v4.8M427.11,387.22h4M429.11,384.82v4.8M428.07,389.63h4M430.07,387.23v4.8M429.08,392.02h4M431.08,389.62v4.8M431.26,393.33h4M433.26,390.93v4.8M432.88,395.19h4M434.88,392.79v4.8M434.02,397.52h4M436.02,395.12v4.8M435.46,399.67h4M437.46,397.27v4.8M437.1,401.69h4M439.1,399.29v4.8M438.65,403.77h4M440.65,401.37v4.8M440.17,405.88h4M442.17,403.48v4.8M441.59,408.05h4M443.59,405.65v4.8M442.57,410.46h4M444.57,408.06v4.8M444.47,411.5h4M446.47,409.1v4.8M447.07,411.5h4M449.07,409.1v4.8" fill="none" stroke="#0f4d86" stroke-width="1.0"/>
<path d="M317.5,305.6 324.3,305.6 324.3,317.7 328.9,317.7 329.2,324.6 330.5,329.2 331.2,336.2 332.8,336.2 332.8,342.3 344.3,342.3 344.6,349.5 347.4,349.5 347.4,357.4 375.1,357.4 375.1,367.4 395.8,367.4 396.1,379.2 398.8,379.2 398.8,390.2 471.8,390.2 471.8,436.8 491.5,436.8" fill="none" stroke="#c40a2c" stroke-width="1.6" stroke-linejoin="miter" stroke-miterlimit="2"/>
<path d="M328.5,330h4M330.5,327.6v4.8M335.4,342.3h4M337.4,339.9v4.8M341.5,342.3h4M343.5,339.9v4.8M352.3,357.4h4M354.3,355v4.8M363.8,357.4h4M365.8,355v4.8M366.2,357.4h4M368.2,355v4.8M372.3,357.4h4M374.3,355v4.8M380,367.4h4M382,365v4.8M406.1,390.2h4M408.1,387.8v4.8M413.8,390.2h4M415.8,387.8v4.8M435.3,390.2h4M437.3,387.8v4.8M450.7,390.2h4M452.7,387.8v4.8M488.7,436.8h4M490.7,434.4v4.8" fill="none" stroke="#c40a2c" stroke-width="1.0"/>
<path d="M307.4,300.5H511.1V486.7H307.4Z" fill="none" stroke="#525252" stroke-width="1.95"/>
<path d="M304,305.6H307.4" stroke="#525252" stroke-width="1"/>
<text transform="translate(301.2,308.75) scale(0.88,1)" font-size="9.8" text-anchor="end" fill="#333333">1.0</text>
<path d="M304,340.78H307.4" stroke="#525252" stroke-width="1"/>
<text transform="translate(301.2,343.93) scale(0.88,1)" font-size="9.8" text-anchor="end" fill="#333333">0.8</text>
<path d="M304,375.96H307.4" stroke="#525252" stroke-width="1"/>
<text transform="translate(301.2,379.11) scale(0.88,1)" font-size="9.8" text-anchor="end" fill="#333333">0.6</text>
<path d="M304,411.14H307.4" stroke="#525252" stroke-width="1"/>
<text transform="translate(301.2,414.29) scale(0.88,1)" font-size="9.8" text-anchor="end" fill="#333333">0.4</text>
<path d="M304,446.32H307.4" stroke="#525252" stroke-width="1"/>
<text transform="translate(301.2,449.47) scale(0.88,1)" font-size="9.8" text-anchor="end" fill="#333333">0.2</text>
<path d="M304,481.5H307.4" stroke="#525252" stroke-width="1"/>
<text transform="translate(301.2,484.65) scale(0.88,1)" font-size="9.8" text-anchor="end" fill="#333333">0.0</text>
<path d="M317.9,486.7V490.8" stroke="#525252" stroke-width="1.1"/>
<text transform="translate(317.9,498.5) scale(0.95,1)" font-size="9.4" text-anchor="middle" fill="#333333">0</text>
<path d="M348.5,486.7V490.8" stroke="#525252" stroke-width="1.1"/>
<text transform="translate(348.5,498.5) scale(0.95,1)" font-size="9.4" text-anchor="middle" fill="#333333">12</text>
<path d="M379.1,486.7V490.8" stroke="#525252" stroke-width="1.1"/>
<text transform="translate(379.1,498.5) scale(0.95,1)" font-size="9.4" text-anchor="middle" fill="#333333">24</text>
<path d="M409.7,486.7V490.8" stroke="#525252" stroke-width="1.1"/>
<text transform="translate(409.7,498.5) scale(0.95,1)" font-size="9.4" text-anchor="middle" fill="#333333">36</text>
<path d="M440.3,486.7V490.8" stroke="#525252" stroke-width="1.1"/>
<text transform="translate(440.3,498.5) scale(0.95,1)" font-size="9.4" text-anchor="middle" fill="#333333">48</text>
<path d="M470.9,486.7V490.8" stroke="#525252" stroke-width="1.1"/>
<text transform="translate(470.9,498.5) scale(0.95,1)" font-size="9.4" text-anchor="middle" fill="#333333">60</text>
<path d="M501.5,486.7V490.8" stroke="#525252" stroke-width="1.1"/>
<text transform="translate(501.5,498.5) scale(0.95,1)" font-size="9.4" text-anchor="middle" fill="#333333">72</text>
<text transform="translate(283,446.9) rotate(-90)" font-size="10.5" textLength="106.8" lengthAdjust="spacingAndGlyphs" fill="#333333" stroke="#333333" stroke-width="0.2">Probability of event free survival</text>
<text x="385" y="512.5" font-size="10.5" textLength="48.5" lengthAdjust="spacingAndGlyphs" fill="#333333" stroke="#333333" stroke-width="0.2">Time (months)</text>
<text x="312" y="481.8" font-size="8.5" font-style="italic" fill="#333333">P</text>
<rect x="319.6" y="478.1" width="5.4" height="2.8" fill="#8c8c8c"/>
<text x="327.1" y="481.8" font-size="8.5" fill="#333333">0.574</text>
<rect x="456.4" y="304.1" width="51.5" height="29.9" fill="#fff" stroke="#444" stroke-width="1.7"/>
<text x="479.7" y="312.2" font-size="8.5" text-anchor="middle" fill="#333333">CIRS3</text>
<path d="M459.5,319.4H485.7" stroke="#0f4d86" stroke-width="2"/>
<path d="M459.5,328.4H485.7" stroke="#c40a2c" stroke-width="2"/>
<text x="489.9" y="321.7" font-size="8.5" fill="#333333">No</text>
<text x="489.9" y="330.7" font-size="8.5" fill="#333333">Yes</text>
<text x="301" y="527.05" font-size="9.7" text-anchor="end" fill="#22609a">No</text>
<text x="301" y="537.05" font-size="9.7" text-anchor="end" fill="#cc1f3d">Yes</text>
<text x="317.9" y="527.05" font-size="9.7" text-anchor="middle" fill="#22609a">199</text>
<text x="348.5" y="527.05" font-size="9.7" text-anchor="middle" fill="#22609a">155</text>
<text x="379.1" y="527.05" font-size="9.7" text-anchor="middle" fill="#22609a">110</text>
<text x="409.7" y="527.05" font-size="9.7" text-anchor="middle" fill="#22609a">56</text>
<text x="440.3" y="527.05" font-size="9.7" text-anchor="middle" fill="#22609a">20</text>
<text x="470.9" y="527.05" font-size="9.7" text-anchor="middle" fill="#22609a">8</text>
<text x="501.5" y="527.05" font-size="9.7" text-anchor="middle" fill="#22609a">0</text>
<text x="317.9" y="537.05" font-size="9.7" text-anchor="middle" fill="#cc1f3d">29</text>
<text x="348.5" y="537.05" font-size="9.7" text-anchor="middle" fill="#cc1f3d">17</text>
<text x="379.1" y="537.05" font-size="9.7" text-anchor="middle" fill="#cc1f3d">11</text>
<text x="409.7" y="537.05" font-size="9.7" text-anchor="middle" fill="#cc1f3d">7</text>
<text x="440.3" y="537.05" font-size="9.7" text-anchor="middle" fill="#cc1f3d">3</text>
<text x="470.9" y="537.05" font-size="9.7" text-anchor="middle" fill="#cc1f3d">2</text>
<text x="501.5" y="537.05" font-size="9.7" text-anchor="middle" fill="#cc1f3d">0</text>
<text x="8.2" y="571.3" font-size="14.5" font-weight="bold" fill="#111">E</text>
<path d="M59.5,585.9 64.2,588.5 68.8,592.3 73.5,595.4 78.1,598.5 81.9,600.8 85.8,601.5 88.8,604.6 91.9,609.2 95,613.8 99.6,617.7 104.2,620.8 108.1,623.1 111.9,626.9 115.8,630.8 119.6,631.5 124.2,636.2 128.8,640 133.5,643.1 139.2,645.4 143.8,648.5 148.5,652.3 153.1,656.2 156.9,660 160,663.8 163.8,665.4 168.5,666.2 172.3,668.5 181.5,668.5 181.5,673.5 187.3,673.5 188.1,675.4 193.5,675.4 194.2,678.5 206.5,678.5 206.5,685.8 241.2,685.8" fill="none" stroke="#0f4d86" stroke-width="1.6" stroke-linejoin="miter" stroke-miterlimit="2"/>
<path d="M59.5,585.9 64.2,588.5 68.8,592.3 73.5,595.4 78.1,598.5 81.9,600.8 85.8,601.5 88.8,604.6 91.9,609.2 95,613.8 99.6,617.7 104.2,620.8 108.1,623.1 111.9,626.9 115.8,630.8 119.6,631.5 124.2,636.2 128.8,640 133.5,643.1" fill="none" stroke="#0f4d86" stroke-width="3.9" stroke-linejoin="round" stroke-linecap="round"/>
<path d="M133.5,643.1 139.2,645.4 143.8,648.5 148.5,652.3 153.1,656.2 156.9,660 160,663.8 163.8,665.4 168.5,666.2 172.3,668.5 181.5,668.5" fill="none" stroke="#0f4d86" stroke-width="1.9" stroke-linejoin="round" stroke-linecap="round"/>
<path d="M210.7,685.8h4M212.7,683.4v4.8M214.5,685.8h4M216.5,683.4v4.8M219.2,685.8h4M221.2,683.4v4.8M222.2,685.8h4M224.2,683.4v4.8M229.9,685.8h4M231.9,683.4v4.8M239.2,685.8h4M241.2,683.4v4.8M194,678.5h4M196,676.1v4.8M196,678.5h4M198,676.1v4.8M198,678.5h4M200,676.1v4.8M200,678.5h4M202,676.1v4.8M202,678.5h4M204,676.1v4.8M186,674h4M188,671.6v4.8M189,675.4h4M191,673v4.8M132.71,643.59h4M134.71,641.19v4.8M135.12,644.56h4M137.12,642.16v4.8M137.49,645.6h4M139.49,643.2v4.8M139.65,647.05h4M141.65,644.65v4.8M141.8,648.5h4M143.8,646.1v4.8M143.83,650.14h4M145.83,647.74v4.8M145.85,651.77h4M147.85,649.37v4.8M147.84,653.44h4M149.84,651.04v4.8M149.83,655.12h4M151.83,652.72v4.8M151.76,656.86h4M153.76,654.46v4.8M153.6,658.7h4M155.6,656.3v4.8M155.38,660.59h4M157.38,658.19v4.8M157.02,662.6h4M159.02,660.2v4.8M158.97,664.21h4M160.97,661.81v4.8M161.37,665.22h4M163.37,662.82v4.8M163.9,665.76h4M165.9,663.36v4.8M166.46,666.19h4M168.46,663.79v4.8M168.69,667.53h4M170.69,665.13v4.8M171.02,668.5h4M173.02,666.1v4.8M173.62,668.5h4M175.62,666.1v4.8M176.22,668.5h4M178.22,666.1v4.8M178.82,668.5h4M180.82,666.1v4.8" fill="none" stroke="#0f4d86" stroke-width="1.0"/>
<path d="M59.5,585.9 62.8,587.8 65.7,589.2 67.6,591.6 69.5,594.5 71.5,597.4 73.4,600.8 77.2,602.7 80.1,606 83,609.4 85.9,613.7 89.7,619 92.6,622.4 96.5,623.1 101.2,623.1 101.9,630 107.3,630 111.2,631.5 111.9,639.2 122.7,639.2 124.2,642.3 125,648.5 142.3,648.5 145.4,650 146.9,656.9 160.8,656.9 161.5,661.5 165.4,662.3 166.9,667.7 170,668.5 170.8,674.6 173.8,674.6 174.6,681.5 175.8,696.2 191.9,696.2 191.9,709.5 194.2,709.5 194.7,722.8 207.3,722.8" fill="none" stroke="#c40a2c" stroke-width="1.6" stroke-linejoin="miter" stroke-miterlimit="2"/>
<path d="M59.5,585.9 62.8,587.8 65.7,589.2 67.6,591.6 69.5,594.5 71.5,597.4 73.4,600.8 77.2,602.7 80.1,606 83,609.4 85.9,613.7 89.7,619 92.6,622.4 96.5,623.1" fill="none" stroke="#c40a2c" stroke-width="2.2" stroke-linejoin="round" stroke-linecap="round"/>
<path d="M94,623.1h4M96,620.7v4.8M97,623.1h4M99,620.7v4.8M102,630h4M104,627.6v4.8M106,630.5h4M108,628.1v4.8M112,639.2h4M114,636.8v4.8M114,639.2h4M116,636.8v4.8M116,639.2h4M118,636.8v4.8M118,639.2h4M120,636.8v4.8M137,648.5h4M139,646.1v4.8M147,656.9h4M149,654.5v4.8M150,656.9h4M152,654.5v4.8M154,656.9h4M156,654.5v4.8M157,656.9h4M159,654.5v4.8M162,662h4M164,659.6v4.8M183,696.2h4M185,693.8v4.8M184.5,696.2h4M186.5,693.8v4.8M186.8,696.2h4M188.8,693.8v4.8M189.2,696.2h4M191.2,693.8v4.8M194.5,722.8h4M196.5,720.4v4.8M200.7,722.8h4M202.7,720.4v4.8M204.5,722.8h4M206.5,720.4v4.8M58.89,586.7h4M60.89,584.3v4.8M61.69,588.23h4M63.69,585.83v4.8M64.3,589.96h4M66.3,587.56v4.8M66.21,592.53h4M68.21,590.13v4.8M67.98,595.19h4M69.98,592.79v4.8M69.75,597.85h4M71.75,595.45v4.8M71.32,600.65h4M73.32,598.25v4.8M74.11,602.15h4M76.11,599.75v4.8M76.51,604.19h4M78.51,601.79v4.8M78.61,606.6h4M80.61,604.2v4.8M80.69,609.03h4M82.69,606.63v4.8M82.52,611.65h4M84.52,609.25v4.8M84.32,614.29h4M86.32,611.89v4.8M86.19,616.89h4M88.19,614.49v4.8M88.09,619.46h4M90.09,617.06v4.8M90.17,621.9h4M92.17,619.5v4.8M93.1,622.85h4M95.1,620.45v4.8" fill="none" stroke="#c40a2c" stroke-width="1.0"/>
<path d="M48.9,581.5H250.75V766.2H48.9Z" fill="none" stroke="#525252" stroke-width="1.95"/>
<path d="M45.5,585.9H48.9" stroke="#525252" stroke-width="1"/>
<text transform="translate(42.7,589.05) scale(0.88,1)" font-size="9.8" text-anchor="end" fill="#333333">1.0</text>
<path d="M45.5,620.97H48.9" stroke="#525252" stroke-width="1"/>
<text transform="translate(42.7,624.12) scale(0.88,1)" font-size="9.8" text-anchor="end" fill="#333333">0.8</text>
<path d="M45.5,656.04H48.9" stroke="#525252" stroke-width="1"/>
<text transform="translate(42.7,659.19) scale(0.88,1)" font-size="9.8" text-anchor="end" fill="#333333">0.6</text>
<path d="M45.5,691.11H48.9" stroke="#525252" stroke-width="1"/>
<text transform="translate(42.7,694.26) scale(0.88,1)" font-size="9.8" text-anchor="end" fill="#333333">0.4</text>
<path d="M45.5,726.18H48.9" stroke="#525252" stroke-width="1"/>
<text transform="translate(42.7,729.33) scale(0.88,1)" font-size="9.8" text-anchor="end" fill="#333333">0.2</text>
<path d="M45.5,761.25H48.9" stroke="#525252" stroke-width="1"/>
<text transform="translate(42.7,764.4) scale(0.88,1)" font-size="9.8" text-anchor="end" fill="#333333">0.0</text>
<path d="M59.5,766.2V770.3" stroke="#525252" stroke-width="1.1"/>
<text transform="translate(59.5,778) scale(0.95,1)" font-size="9.4" text-anchor="middle" fill="#333333">0</text>
<path d="M85.54,766.2V770.3" stroke="#525252" stroke-width="1.1"/>
<text transform="translate(85.54,778) scale(0.95,1)" font-size="9.4" text-anchor="middle" fill="#333333">12</text>
<path d="M111.58,766.2V770.3" stroke="#525252" stroke-width="1.1"/>
<text transform="translate(111.58,778) scale(0.95,1)" font-size="9.4" text-anchor="middle" fill="#333333">24</text>
<path d="M137.62,766.2V770.3" stroke="#525252" stroke-width="1.1"/>
<text transform="translate(137.62,778) scale(0.95,1)" font-size="9.4" text-anchor="middle" fill="#333333">36</text>
<path d="M163.66,766.2V770.3" stroke="#525252" stroke-width="1.1"/>
<text transform="translate(163.66,778) scale(0.95,1)" font-size="9.4" text-anchor="middle" fill="#333333">48</text>
<path d="M189.7,766.2V770.3" stroke="#525252" stroke-width="1.1"/>
<text transform="translate(189.7,778) scale(0.95,1)" font-size="9.4" text-anchor="middle" fill="#333333">60</text>
<path d="M215.74,766.2V770.3" stroke="#525252" stroke-width="1.1"/>
<text transform="translate(215.74,778) scale(0.95,1)" font-size="9.4" text-anchor="middle" fill="#333333">72</text>
<path d="M233.1,766.2V770.3" stroke="#525252" stroke-width="1.1"/>
<text transform="translate(233.1,778) scale(0.95,1)" font-size="9.4" text-anchor="middle" fill="#333333">80</text>
<text transform="translate(24.6,737.4) rotate(-90)" font-size="10.5" textLength="127.1" lengthAdjust="spacingAndGlyphs" fill="#333333" stroke="#333333" stroke-width="0.2">Probability of progression free survival</text>
<text x="125.6" y="792.1" font-size="10.5" textLength="48.2" lengthAdjust="spacingAndGlyphs" fill="#333333" stroke="#333333" stroke-width="0.2">Time (months)</text>
<text x="53.5" y="761.55" font-size="8.5" font-style="italic" fill="#333333">P</text>
<rect x="61.1" y="757.85" width="5.4" height="2.8" fill="#8c8c8c"/>
<text x="68.6" y="761.55" font-size="8.5" fill="#333333">0.156</text>
<rect x="195.9" y="584.8" width="51.4" height="29.8" fill="#fff" stroke="#444" stroke-width="1.7"/>
<text x="219.15" y="592.9" font-size="8.5" text-anchor="middle" fill="#333333">CIRS3</text>
<path d="M199,600.1H225.2" stroke="#0f4d86" stroke-width="2"/>
<path d="M199,609.1H225.2" stroke="#c40a2c" stroke-width="2"/>
<text x="229.4" y="602.4" font-size="8.5" fill="#333333">No</text>
<text x="229.4" y="611.4" font-size="8.5" fill="#333333">Yes</text>
<text x="42.5" y="805.95" font-size="9.7" text-anchor="end" fill="#22609a">No</text>
<text x="42.5" y="816.25" font-size="9.7" text-anchor="end" fill="#cc1f3d">Yes</text>
<text x="59.5" y="805.95" font-size="9.7" text-anchor="middle" fill="#22609a">366</text>
<text x="85.54" y="805.95" font-size="9.7" text-anchor="middle" fill="#22609a">269</text>
<text x="111.58" y="805.95" font-size="9.7" text-anchor="middle" fill="#22609a">170</text>
<text x="137.62" y="805.95" font-size="9.7" text-anchor="middle" fill="#22609a">105</text>
<text x="163.66" y="805.95" font-size="9.7" text-anchor="middle" fill="#22609a">49</text>
<text x="189.7" y="805.95" font-size="9.7" text-anchor="middle" fill="#22609a">35</text>
<text x="215.74" y="805.95" font-size="9.7" text-anchor="middle" fill="#22609a">9</text>
<text x="233.1" y="805.95" font-size="9.7" text-anchor="middle" fill="#22609a">2</text>
<text x="59.5" y="816.25" font-size="9.7" text-anchor="middle" fill="#cc1f3d">118</text>
<text x="85.54" y="816.25" font-size="9.7" text-anchor="middle" fill="#cc1f3d">75</text>
<text x="111.58" y="816.25" font-size="9.7" text-anchor="middle" fill="#cc1f3d">52</text>
<text x="137.62" y="816.25" font-size="9.7" text-anchor="middle" fill="#cc1f3d">35</text>
<text x="163.66" y="816.25" font-size="9.7" text-anchor="middle" fill="#cc1f3d">18</text>
<text x="189.7" y="816.25" font-size="9.7" text-anchor="middle" fill="#cc1f3d">6</text>
<text x="215.74" y="816.25" font-size="9.7" text-anchor="middle" fill="#cc1f3d">0</text>
<text x="264" y="571.3" font-size="14.5" font-weight="bold" fill="#111">F</text>
<path d="M318.4,585 321.8,588.7 325.6,593.5 329.5,598.3 333.3,601.7 337.2,605.1 341,608 343.9,609.4 347.7,612.8 351.6,617.6 354.5,621.4 358.3,625.3 362.8,629.2 367.4,632.3 370,636.2 373.1,639.2 374.6,644.6 379.2,646.9 383.8,650 388.5,653.8 393.1,656.2 397.7,657.7 402.3,657.7 406.2,659.2 410,663.1 413.1,666.9 416.9,670 420.8,673.1 423.5,673.5 425.4,675.4 431.5,676.2 432.1,677.3 441.6,677.3 442.1,682.1 446,682.5 447.3,685.1 449.4,688.5 452,692 502.2,692" fill="none" stroke="#0f4d86" stroke-width="1.6" stroke-linejoin="miter" stroke-miterlimit="2"/>
<path d="M318.4,585 321.8,588.7 325.6,593.5 329.5,598.3 333.3,601.7 337.2,605.1 341,608 343.9,609.4 347.7,612.8 351.6,617.6 354.5,621.4 358.3,625.3 362.8,629.2 367.4,632.3 370,636.2 373.1,639.2 374.6,644.6 379.2,646.9" fill="none" stroke="#0f4d86" stroke-width="3.9" stroke-linejoin="round" stroke-linecap="round"/>
<path d="M379.2,646.9 383.8,650 388.5,653.8 393.1,656.2 397.7,657.7 402.3,657.7 406.2,659.2 410,663.1 413.1,666.9 416.9,670 420.8,673.1 423.5,673.5" fill="none" stroke="#0f4d86" stroke-width="1.9" stroke-linejoin="round" stroke-linecap="round"/>
<path d="M452.6,692h4M454.6,689.6v4.8M454.3,692h4M456.3,689.6v4.8M459.5,692h4M461.5,689.6v4.8M462.1,692h4M464.1,689.6v4.8M463.8,692h4M465.8,689.6v4.8M470.8,692h4M472.8,689.6v4.8M475.1,692h4M477.1,689.6v4.8M479.4,692h4M481.4,689.6v4.8M482,692h4M484,689.6v4.8M490.7,692h4M492.7,689.6v4.8M499.3,692h4M501.3,689.6v4.8M378.28,647.63h4M380.28,645.23v4.8M380.43,649.08h4M382.43,646.68v4.8M382.54,650.6h4M384.54,648.2v4.8M384.56,652.23h4M386.56,649.83v4.8M386.6,653.85h4M388.6,651.45v4.8M388.9,655.05h4M390.9,652.65v4.8M391.21,656.24h4M393.21,653.84v4.8M393.69,657.04h4M395.69,654.64v4.8M396.18,657.7h4M398.18,655.3v4.8M398.78,657.7h4M400.78,655.3v4.8M401.31,658.09h4M403.31,655.69v4.8M403.74,659.02h4M405.74,656.62v4.8M405.67,660.71h4M407.67,658.31v4.8M407.48,662.57h4M409.48,660.17v4.8M409.17,664.54h4M411.17,662.14v4.8M410.82,666.55h4M412.82,664.15v4.8M412.77,668.26h4M414.77,665.86v4.8M414.78,669.91h4M416.78,667.51v4.8M416.82,671.52h4M418.82,669.12v4.8M418.87,673.11h4M420.87,670.71v4.8M421.44,673.49h4M423.44,671.09v4.8" fill="none" stroke="#0f4d86" stroke-width="1.0"/>
<path d="M318.4,585 319.8,587.8 321.8,590.7 323.7,592.6 325.6,598.3 327.5,602.2 329.5,607 332.3,610.8 335.2,612.8 339.1,612.8 341,616.6 342.9,620.5 344.8,626.2 345.4,628.5 348.9,633.1 352.8,634.6 356.6,640 359.7,643.1 364.3,645.4 368.9,646.2 370.5,652.3 374.6,654.6 376.9,656.9 379.2,658.5 380,663.1 381.5,666.9 384.6,670.8 388.5,673.1 393.1,675.4 393.8,676.9 411.5,676.9 412.3,680.8 414.6,685.4 426.9,685.4 427.3,696 430.4,696 430.7,707.6 433,708.4 433.8,715.4 435.3,721.4 435.3,728.2 451.6,728.2 451.6,739.2 454.5,739.2 454.8,750.6 458.4,750.6" fill="none" stroke="#c40a2c" stroke-width="1.6" stroke-linejoin="miter" stroke-miterlimit="2"/>
<path d="M318.4,585 319.8,587.8 321.8,590.7 323.7,592.6 325.6,598.3 327.5,602.2 329.5,607 332.3,610.8 335.2,612.8 339.1,612.8 341,616.6 342.9,620.5 344.8,626.2 345.4,628.5 348.9,633.1 352.8,634.6 356.6,640 359.7,643.1 364.3,645.4 368.9,646.2 370.5,652.3 374.6,654.6 376.9,656.9 379.2,658.5 380,663.1 381.5,666.9 384.6,670.8 388.5,673.1 393.1,675.4 393.8,676.9" fill="none" stroke="#c40a2c" stroke-width="2.2" stroke-linejoin="round" stroke-linecap="round"/>
<path d="M395.7,676.9h4M397.7,674.5v4.8M405.7,676.9h4M407.7,674.5v4.8M417.2,685.4h4M419.2,683v4.8M444.8,728.2h4M446.8,725.8v4.8M446.3,728.2h4M448.3,725.8v4.8M454.4,750.6h4M456.4,748.2v4.8M317.12,586.43h4M319.12,584.03v4.8M318.75,589.17h4M320.75,586.77v4.8M320.75,591.65h4M322.75,589.25v4.8M322.29,594.36h4M324.29,591.96v4.8M323.3,597.4h4M325.3,595v4.8M324.59,600.32h4M326.59,597.92v4.8M325.93,603.23h4M327.93,600.83v4.8M327.16,606.18h4M329.16,603.78v4.8M328.87,608.86h4M330.87,606.46v4.8M330.95,611.25h4M332.95,608.85v4.8M333.67,612.8h4M335.67,610.4v4.8M336.87,612.8h4M338.87,610.4v4.8M338.43,615.46h4M340.43,613.06v4.8M339.84,618.33h4M341.84,615.93v4.8M341.15,621.24h4M343.15,618.84v4.8M342.16,624.28h4M344.16,621.88v4.8M343.1,627.34h4M345.1,624.94v4.8M344.61,630.09h4M346.61,627.69v4.8M346.55,632.64h4M348.55,630.24v4.8M349.34,634.04h4M351.34,631.64v4.8M351.74,635.94h4M353.74,633.54v4.8M353.59,638.56h4M355.59,636.16v4.8M355.62,641.02h4M357.62,638.62v4.8M357.93,643.21h4M359.93,640.81v4.8M360.79,644.64h4M362.79,642.24v4.8M363.79,645.66h4M365.79,643.26v4.8M366.91,646.24h4M368.91,643.84v4.8M367.72,649.33h4M369.72,646.93v4.8M368.62,652.37h4M370.62,649.97v4.8M371.41,653.93h4M373.41,651.53v4.8M373.9,655.9h4M375.9,653.5v4.8M376.36,657.92h4M378.36,655.52v4.8M377.57,660.65h4M379.57,658.25v4.8M378.26,663.76h4M380.26,661.36v4.8M379.44,666.74h4M381.44,664.34v4.8M381.38,669.27h4M383.38,666.87v4.8M383.67,671.43h4M385.67,669.03v4.8M386.43,673.06h4M388.43,670.66v4.8M389.29,674.49h4M391.29,672.09v4.8" fill="none" stroke="#c40a2c" stroke-width="1.0"/>
<path d="M308.3,580.5H511.1V766.1H308.3Z" fill="none" stroke="#525252" stroke-width="1.95"/>
<path d="M304.9,585H308.3" stroke="#525252" stroke-width="1"/>
<text transform="translate(302.1,588.15) scale(0.88,1)" font-size="9.8" text-anchor="end" fill="#333333">1.0</text>
<path d="M304.9,620.25H308.3" stroke="#525252" stroke-width="1"/>
<text transform="translate(302.1,623.4) scale(0.88,1)" font-size="9.8" text-anchor="end" fill="#333333">0.8</text>
<path d="M304.9,655.5H308.3" stroke="#525252" stroke-width="1"/>
<text transform="translate(302.1,658.65) scale(0.88,1)" font-size="9.8" text-anchor="end" fill="#333333">0.6</text>
<path d="M304.9,690.75H308.3" stroke="#525252" stroke-width="1"/>
<text transform="translate(302.1,693.9) scale(0.88,1)" font-size="9.8" text-anchor="end" fill="#333333">0.4</text>
<path d="M304.9,726H308.3" stroke="#525252" stroke-width="1"/>
<text transform="translate(302.1,729.15) scale(0.88,1)" font-size="9.8" text-anchor="end" fill="#333333">0.2</text>
<path d="M304.9,761.25H308.3" stroke="#525252" stroke-width="1"/>
<text transform="translate(302.1,764.4) scale(0.88,1)" font-size="9.8" text-anchor="end" fill="#333333">0.0</text>
<path d="M318.6,766.1V770.2" stroke="#525252" stroke-width="1.1"/>
<text transform="translate(318.6,777.9) scale(0.95,1)" font-size="9.4" text-anchor="middle" fill="#333333">0</text>
<path d="M344.92,766.1V770.2" stroke="#525252" stroke-width="1.1"/>
<text transform="translate(344.92,777.9) scale(0.95,1)" font-size="9.4" text-anchor="middle" fill="#333333">12</text>
<path d="M371.23,766.1V770.2" stroke="#525252" stroke-width="1.1"/>
<text transform="translate(371.23,777.9) scale(0.95,1)" font-size="9.4" text-anchor="middle" fill="#333333">24</text>
<path d="M397.55,766.1V770.2" stroke="#525252" stroke-width="1.1"/>
<text transform="translate(397.55,777.9) scale(0.95,1)" font-size="9.4" text-anchor="middle" fill="#333333">36</text>
<path d="M423.86,766.1V770.2" stroke="#525252" stroke-width="1.1"/>
<text transform="translate(423.86,777.9) scale(0.95,1)" font-size="9.4" text-anchor="middle" fill="#333333">48</text>
<path d="M450.18,766.1V770.2" stroke="#525252" stroke-width="1.1"/>
<text transform="translate(450.18,777.9) scale(0.95,1)" font-size="9.4" text-anchor="middle" fill="#333333">60</text>
<path d="M476.5,766.1V770.2" stroke="#525252" stroke-width="1.1"/>
<text transform="translate(476.5,777.9) scale(0.95,1)" font-size="9.4" text-anchor="middle" fill="#333333">72</text>
<path d="M494.04,766.1V770.2" stroke="#525252" stroke-width="1.1"/>
<text transform="translate(494.04,777.9) scale(0.95,1)" font-size="9.4" text-anchor="middle" fill="#333333">80</text>
<text transform="translate(283.9,726.8) rotate(-90)" font-size="10.5" textLength="106.8" lengthAdjust="spacingAndGlyphs" fill="#333333" stroke="#333333" stroke-width="0.2">Probability of event free survival</text>
<text x="385.6" y="792.1" font-size="10.5" textLength="48.2" lengthAdjust="spacingAndGlyphs" fill="#333333" stroke="#333333" stroke-width="0.2">Time (months)</text>
<text x="312.9" y="761.55" font-size="8.5" font-style="italic" fill="#333333">P</text>
<rect x="320.5" y="757.85" width="5.4" height="2.8" fill="#8c8c8c"/>
<text x="328" y="761.55" font-size="8.5" fill="#333333">0.006</text>
<rect x="456.4" y="584.1" width="51.5" height="29.9" fill="#fff" stroke="#444" stroke-width="1.7"/>
<text x="479.7" y="592.2" font-size="8.5" text-anchor="middle" fill="#333333">CIRS3</text>
<path d="M459.5,599.4H485.7" stroke="#0f4d86" stroke-width="2"/>
<path d="M459.5,608.4H485.7" stroke="#c40a2c" stroke-width="2"/>
<text x="489.9" y="601.7" font-size="8.5" fill="#333333">No</text>
<text x="489.9" y="610.7" font-size="8.5" fill="#333333">Yes</text>
<text x="301.9" y="805.95" font-size="9.7" text-anchor="end" fill="#22609a">No</text>
<text x="301.9" y="816.25" font-size="9.7" text-anchor="end" fill="#cc1f3d">Yes</text>
<text x="318.6" y="805.95" font-size="9.7" text-anchor="middle" fill="#22609a">366</text>
<text x="344.92" y="805.95" font-size="9.7" text-anchor="middle" fill="#22609a">250</text>
<text x="371.23" y="805.95" font-size="9.7" text-anchor="middle" fill="#22609a">157</text>
<text x="397.55" y="805.95" font-size="9.7" text-anchor="middle" fill="#22609a">95</text>
<text x="423.86" y="805.95" font-size="9.7" text-anchor="middle" fill="#22609a">45</text>
<text x="450.18" y="805.95" font-size="9.7" text-anchor="middle" fill="#22609a">31</text>
<text x="476.5" y="805.95" font-size="9.7" text-anchor="middle" fill="#22609a">9</text>
<text x="494.04" y="805.95" font-size="9.7" text-anchor="middle" fill="#22609a">2</text>
<text x="318.6" y="816.25" font-size="9.7" text-anchor="middle" fill="#cc1f3d">118</text>
<text x="344.92" y="816.25" font-size="9.7" text-anchor="middle" fill="#cc1f3d">68</text>
<text x="371.23" y="816.25" font-size="9.7" text-anchor="middle" fill="#cc1f3d">43</text>
<text x="397.55" y="816.25" font-size="9.7" text-anchor="middle" fill="#cc1f3d">26</text>
<text x="423.86" y="816.25" font-size="9.7" text-anchor="middle" fill="#cc1f3d">15</text>
<text x="450.18" y="816.25" font-size="9.7" text-anchor="middle" fill="#cc1f3d">3</text>
<text x="476.5" y="816.25" font-size="9.7" text-anchor="middle" fill="#cc1f3d">0</text>
<rect x="0.6" y="0.6" width="518.8" height="822.8" fill="none" stroke="#111" stroke-width="1.3"/>
</svg>
</body></html>
